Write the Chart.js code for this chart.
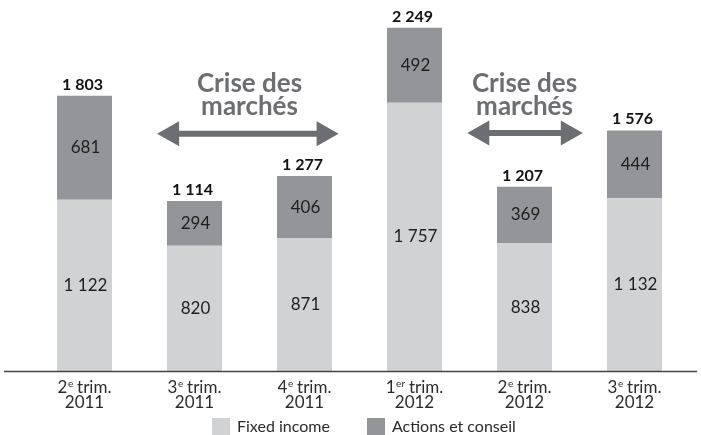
<!DOCTYPE html>
<html>
<head>
<meta charset="utf-8">
<script src="https://cdn.jsdelivr.net/npm/chart.js@4.4.1/dist/chart.umd.min.js"></script>
<style>
  html, body { margin: 0; padding: 0; background: #fff; }
  #wrap { width: 701px; height: 435px; position: relative; }
</style>
</head>
<body>
<div id="wrap"><canvas id="chart" width="701" height="435"></canvas></div>
<script>
// quarters: number, superscript, year
const quarterNums = ['2', '3', '4', '1', '2', '3'];
const quarterSups = ['e', 'e', 'e', 'er', 'e', 'e'];
const years = ['2011', '2011', '2011', '2012', '2012', '2012'];
const categories = quarterNums.map((q, i) => q + quarterSups[i] + ' trim. ' + years[i]);

const fixedIncome = [1122, 820, 871, 1757, 838, 1132];
const actionsConseil = [681, 294, 406, 492, 369, 444];

// "Crise des marchés" notes: x in category units, y in data units
const crises = [
    {x: 1.5, from: 0.66, to: 2.31, textY: 1880, arrowY: 1554},
    {x: 4, from: 3.48, to: 4.53, textY: 1880, arrowY: 1560}
];

const lightGrey = '#d1d2d4';
const darkGrey = '#939598';
const noteGrey = '#6d6e71';
const FONT = 'Lato, "Open Sans", sans-serif';

function fmt(n) {
    return String(n).replace(/\B(?=(\d{3})+(?!\d))/g, ' ');
}

const labelsPlugin = {
    id: 'labelsPlugin',
    afterDatasetsDraw(chart) {
        const ctx = chart.ctx;
        const x = chart.scales.x;
        const y = chart.scales.y;
        const area = chart.chartArea;
        ctx.save();

        // values inside segments
        ctx.font = '17px ' + FONT;
        ctx.fillStyle = '#1e1e1e';
        ctx.textAlign = 'center';
        ctx.textBaseline = 'middle';
        chart.data.datasets.forEach((ds, di) => {
            chart.getDatasetMeta(di).data.forEach((bar, i) => {
                ctx.fillText(fmt(ds.data[i]), bar.x + 1, (bar.y + bar.base) / 2);
            });
        });

        // totals
        ctx.font = 'bold 16px ' + FONT;
        ctx.fillStyle = '#111';
        ctx.textBaseline = 'alphabetic';
        const top = chart.getDatasetMeta(1).data;
        top.forEach((bar, i) => {
            ctx.fillText(fmt(fixedIncome[i] + actionsConseil[i]), bar.x - 2, bar.y - 6);
        });

        // axis line
        ctx.strokeStyle = '#444';
        ctx.lineWidth = 1.5;
        ctx.beginPath();
        ctx.moveTo(4, area.bottom + 0.5);
        ctx.lineTo(697, area.bottom + 0.5);
        ctx.stroke();

        // category labels with superscripts
        ctx.fillStyle = '#2b2b2b';
        ctx.textAlign = 'left';
        categories.forEach((c, i) => {
            const cx = x.getPixelForValue(i);
            ctx.font = '17px ' + FONT;
            const wNum = ctx.measureText(quarterNums[i]).width;
            const wRest = ctx.measureText(' trim.').width;
            ctx.font = '10px ' + FONT;
            const wSup = ctx.measureText(quarterSups[i]).width;
            let sx = cx - (wNum + wSup + wRest) / 2;
            const base1 = 393;
            ctx.font = '17px ' + FONT;
            ctx.fillText(quarterNums[i], sx, base1);
            ctx.font = '10px ' + FONT;
            ctx.fillText(quarterSups[i], sx + wNum + 0.5, base1 - 6);
            ctx.font = '17px ' + FONT;
            ctx.fillText(' trim.', sx + wNum + wSup, base1);
            ctx.textAlign = 'center';
            ctx.fillText(years[i], cx, base1 + 15);
            ctx.textAlign = 'left';
        });

        // legend
        const legend = [['Fixed income', lightGrey, 212], ['Actions et conseil', darkGrey, 367]];
        ctx.font = '16px ' + FONT;
        ctx.textBaseline = 'alphabetic';
        legend.forEach(([name, col, lx]) => {
            ctx.fillStyle = col;
            ctx.fillRect(lx, 418, 18, 17);
            ctx.fillStyle = '#2b2b2b';
            ctx.fillText(name, lx + 25, 432);
        });

        // crisis notes
        crises.forEach(c => {
            const tx = x.getPixelForValue(c.x);
            const ty = y.getPixelForValue(c.textY);
            ctx.fillStyle = noteGrey;
            ctx.font = 'bold 26px ' + FONT;
            ctx.textAlign = 'center';
            ctx.textBaseline = 'middle';
            ctx.fillText('Crise des', tx, ty);
            ctx.fillText('marchés', tx, ty + 23);

            const x1 = x.getPixelForValue(c.from);
            const x2 = x.getPixelForValue(c.to);
            const ay = y.getPixelForValue(c.arrowY);
            const head = 22, half = 12.5, shaft = 3;
            ctx.beginPath();
            ctx.moveTo(x1, ay);
            ctx.lineTo(x1 + head, ay - half);
            ctx.lineTo(x1 + head, ay - shaft);
            ctx.lineTo(x2 - head, ay - shaft);
            ctx.lineTo(x2 - head, ay - half);
            ctx.lineTo(x2, ay);
            ctx.lineTo(x2 - head, ay + half);
            ctx.lineTo(x2 - head, ay + shaft);
            ctx.lineTo(x1 + head, ay + shaft);
            ctx.lineTo(x1 + head, ay + half);
            ctx.closePath();
            ctx.fill();
        });
        ctx.restore();
    }
};

new Chart(document.getElementById('chart'), {
    type: 'bar',
    data: {
        labels: categories,
        datasets: [
            {label: 'Fixed income', data: fixedIncome, backgroundColor: lightGrey},
            {label: 'Actions et conseil', data: actionsConseil, backgroundColor: darkGrey}
        ]
    },
    options: {
        responsive: false,
        animation: false,
        devicePixelRatio: 1,
        layout: {padding: {left: 29.5, right: 11.5, top: 20, bottom: 64}},
        datasets: {bar: {categoryPercentage: 1, barPercentage: 0.5}},
        plugins: {legend: {display: false}, tooltip: {enabled: false}},
        scales: {
            x: {stacked: true, display: false},
            y: {stacked: true, display: false, min: 0, max: 2300}
        }
    },
    plugins: [labelsPlugin]
});
</script>
</body>
</html>
